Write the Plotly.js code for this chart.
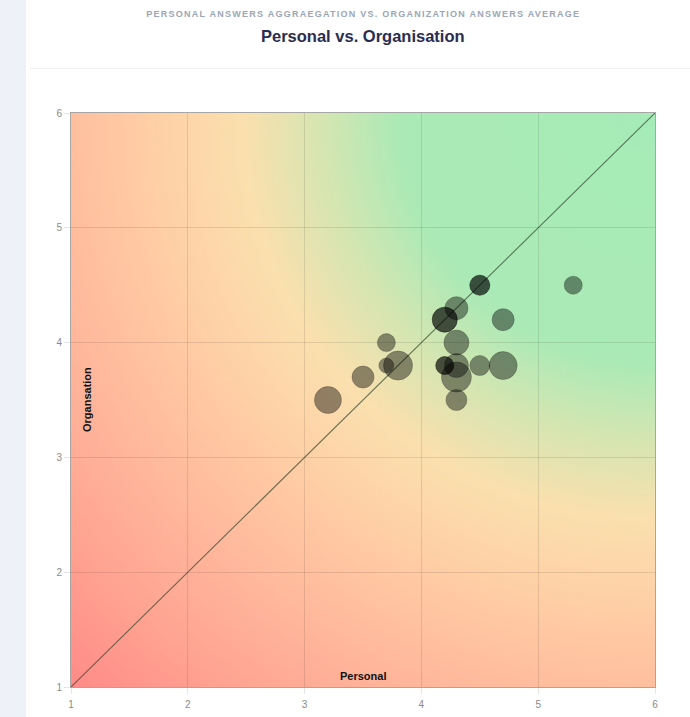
<!DOCTYPE html>
<html>
<head>
<meta charset="utf-8">
<script src="https://cdn.plot.ly/plotly-3.0.1.min.js"></script>
<style>
  html, body { margin: 0; padding: 0; background: #ffffff; }
  #strip { position: absolute; left: 0; top: 0; width: 26px; height: 717px; background: #eef1f7; }
  #divider { position: absolute; left: 30px; top: 68px; width: 660px; height: 1px; background: #eef0f4; }
  #chart { position: absolute; left: 0; top: 0; width: 690px; height: 717px; }
  .annotation[data-index="0"] text { letter-spacing: 1.25px; }
</style>
</head>
<body>
<div id="strip"></div>
<div id="divider"></div>
<div id="chart"></div>
<script>
// ---- data ----
const personal     = [4.5, 4.5, 5.3, 4.3, 4.2, 4.2, 4.7, 3.7, 4.3, 3.7, 3.8, 3.5, 3.2, 4.2, 4.2, 4.3, 4.3, 4.3, 4.5, 4.7];
const organisation = [4.5, 4.5, 4.5, 4.3, 4.2, 4.2, 4.2, 4.0, 4.0, 3.8, 3.8, 3.7, 3.5, 3.8, 3.8, 3.8, 3.7, 3.5, 3.8, 3.8];
const bubbleSize   = [20, 20, 18, 23, 25, 25, 22, 18, 25, 15, 29, 22, 27, 18, 18, 24, 30, 21, 20, 28];
const diagX = [1, 6];
const diagY = [1, 6];
const tickVals = [1, 2, 3, 4, 5, 6];
const subtitleText = "PERSONAL ANSWERS AGGRAEGATION VS. ORGANIZATION ANSWERS AVERAGE";
const titleText = "Personal vs. Organisation";
const xTitle = "Personal";
const yTitle = "Organsation";

// ---- background gradient (canvas image placed in data space) ----
function makeBackground() {
  const c = document.createElement('canvas');
  c.width = 500; c.height = 500;
  const ctx = c.getContext('2d');
  // radial gradient centred on the top-right corner (6,6)
  const cx = 500, cy = 0;
  const g = ctx.createRadialGradient(cx, cy, 0, cx, cy, 707);
  g.addColorStop(0.00, '#a6ecb8');
  g.addColorStop(0.31, '#abeab6');
  g.addColorStop(0.40, '#d4e6b2');
  g.addColorStop(0.50, '#fbe0ae');
  g.addColorStop(0.61, '#ffcfa6');
  g.addColorStop(0.72, '#ffbd9e');
  g.addColorStop(0.86, '#ffa693');
  g.addColorStop(1.00, '#ff8b88');
  ctx.fillStyle = g;
  ctx.fillRect(0, 0, 500, 500);
  return c.toDataURL('image/png');
}

const traces = [
  {
    x: diagX, y: diagY, type: 'scatter', mode: 'lines',
    line: { color: 'rgba(50,70,45,0.7)', width: 1.1 },
    hoverinfo: 'skip', showlegend: false
  },
  {
    x: personal, y: organisation, type: 'scatter', mode: 'markers',
    marker: {
      size: bubbleSize, sizemode: 'diameter',
      color: 'rgba(0,0,0,0.6)',
      line: { color: 'rgba(0,0,0,0.35)', width: 1 }
    },
    showlegend: false
  }
];

const axisCommon = {
  range: [1, 6],
  tickvals: tickVals,
  showgrid: true,
  gridcolor: 'rgba(0,0,0,0.1)',
  gridwidth: 1,
  zeroline: false,
  showline: true,
  mirror: true,
  linecolor: 'rgba(0,0,0,0.35)',
  linewidth: 1,
  ticks: 'outside',
  ticklen: 6,
  tickcolor: 'rgba(0,0,0,0.1)',
  tickfont: { family: 'Liberation Sans, Arial, sans-serif', size: 10, color: '#8a8a8a' },
  fixedrange: true
};

const layout = {
  width: 690, height: 717,
  margin: { l: 71, r: 35, t: 113, b: 30 },
  paper_bgcolor: 'rgba(0,0,0,0)',
  plot_bgcolor: 'rgba(0,0,0,0)',
  xaxis: Object.assign({}, axisCommon, { ticklabelstandoff: 2 }),
  yaxis: Object.assign({}, axisCommon),
  images: [{
    source: makeBackground(),
    xref: 'x', yref: 'y', x: 1, y: 6, sizex: 5, sizey: 5,
    xanchor: 'left', yanchor: 'top', sizing: 'stretch', layer: 'below'
  }],
  annotations: [
    {
      text: '<b>' + subtitleText + '</b>', xref: 'paper', yref: 'paper',
      x: 0.5, y: 1, yshift: 99, xanchor: 'center', yanchor: 'middle', showarrow: false,
      font: { family: 'Liberation Sans, Arial, sans-serif', size: 9, color: '#9aa6b6' }
    },
    {
      text: '<b>' + titleText + '</b>', xref: 'paper', yref: 'paper',
      x: 0.5, y: 1, yshift: 77, xanchor: 'center', yanchor: 'middle', showarrow: false,
      font: { family: 'Liberation Sans, Arial, sans-serif', size: 16.5, color: '#2a2d4e' }
    },
    {
      text: '<b>' + xTitle + '</b>', xref: 'paper', yref: 'paper',
      x: 0.5, y: 0, yshift: 11, xanchor: 'center', yanchor: 'middle', showarrow: false,
      font: { family: 'Liberation Sans, Arial, sans-serif', size: 11, color: '#111111' }
    },
    {
      text: '<b>' + yTitle + '</b>', xref: 'paper', yref: 'paper',
      x: 0, y: 0.5, xshift: 16, xanchor: 'center', yanchor: 'middle', showarrow: false,
      textangle: -90,
      font: { family: 'Liberation Sans, Arial, sans-serif', size: 11, color: '#111111' }
    }
  ]
};

Plotly.newPlot('chart', traces, layout, { displayModeBar: false, staticPlot: true });
</script>
</body>
</html>
